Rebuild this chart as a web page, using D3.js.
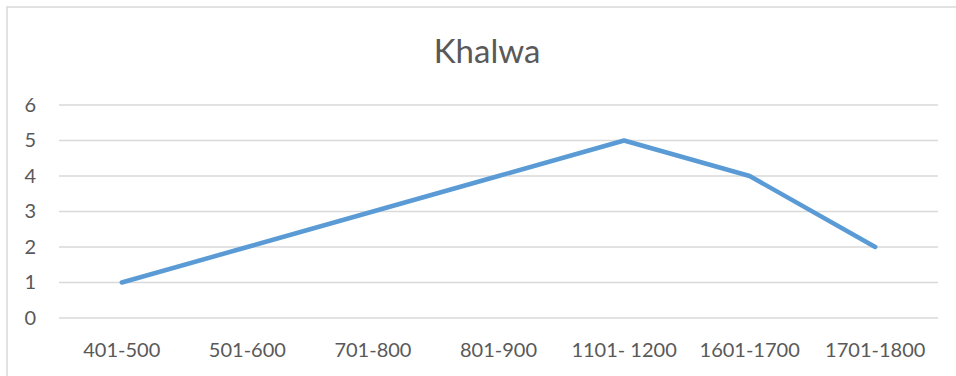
<!DOCTYPE html>
<html>
<head>
<meta charset="utf-8">
<script src="https://cdn.jsdelivr.net/npm/d3@7"></script>
<style>
  html, body { margin: 0; padding: 0; background: #fff; }
  svg { display: block; font-family: Lato, "Open Sans", sans-serif; }
</style>
</head>
<body>
<svg id="chart" width="956" height="376"></svg>
<script>
// Periods and counts for the Khalwa series
const categories = ["401-500", "501-600", "701-800", "801-900", "1101- 1200", "1601-1700", "1701-1800"];
const values = [1, 2, 3, 4, 5, 4, 2];
const yTicks = [0, 1, 2, 3, 4, 5, 6];
const title = "Khalwa";

const svg = d3.select("#chart");
const W = 956, H = 376;
const plot = { left: 59, right: 938, top: 105, bottom: 318 };

// Chart area border
svg.append("rect")
  .attr("x", 7).attr("y", 7)
  .attr("width", W + 10).attr("height", H + 10)
  .attr("fill", "#fff")
  .attr("stroke", "#d9d9d9")
  .attr("stroke-width", 1.5);

const x = d3.scaleBand().domain(categories).range([plot.left, plot.right]);
const y = d3.scaleLinear().domain([0, 6]).range([plot.bottom, plot.top]);

// Horizontal gridlines
svg.append("g")
  .selectAll("line")
  .data(yTicks)
  .join("line")
  .attr("x1", plot.left).attr("x2", plot.right)
  .attr("y1", d => y(d)).attr("y2", d => y(d))
  .attr("stroke", "#d9d9d9")
  .attr("stroke-width", 1.3);

// Y axis labels
const yAxis = d3.axisLeft(y).tickValues(yTicks).tickFormat(d3.format("d")).tickSize(0).tickPadding(0);
svg.append("g")
  .attr("transform", `translate(${plot.left - 23},0)`)
  .call(yAxis)
  .call(g => g.select(".domain").remove())
  .selectAll("text")
  .attr("fill", "#595959")
  .style("font-size", "20px")
  .style("font-family", "Lato, 'Open Sans', sans-serif");

// X axis labels
const xAxis = d3.axisBottom(x).tickSize(0).tickPadding(0);
svg.append("g")
  .attr("transform", `translate(0,${plot.bottom + 25})`)
  .call(xAxis)
  .call(g => g.select(".domain").remove())
  .selectAll("text")
  .attr("fill", "#595959")
  .style("font-size", "20px")
  .style("font-family", "Lato, 'Open Sans', sans-serif");

// Series line
const line = d3.line()
  .x((d, i) => x(categories[i]) + x.bandwidth() / 2)
  .y(d => y(d));

svg.append("path")
  .datum(values)
  .attr("d", line)
  .attr("fill", "none")
  .attr("stroke", "#5b9bd5")
  .attr("stroke-width", 4.5)
  .attr("stroke-linecap", "round")
  .attr("stroke-linejoin", "round");

// Title
svg.append("text")
  .attr("x", 487).attr("y", 63)
  .attr("text-anchor", "middle")
  .attr("fill", "#595959")
  .style("font-size", "33px")
  .text(title);
</script>
</body>
</html>
